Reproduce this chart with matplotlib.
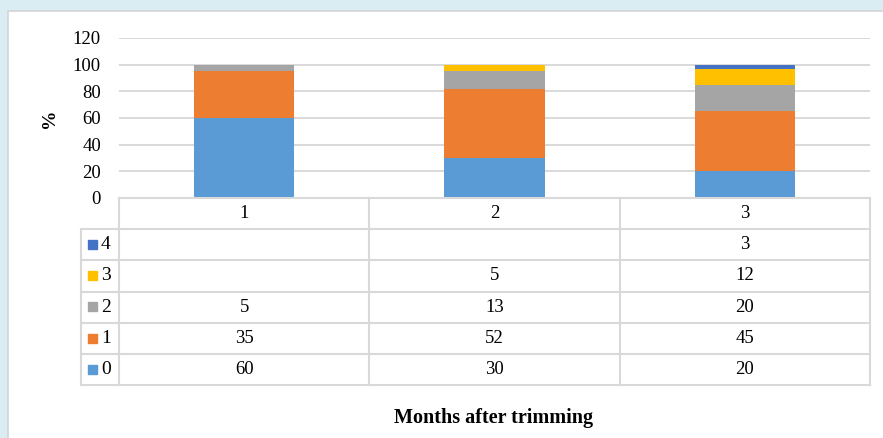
from matplotlib import pyplot
from matplotlib.patches import Rectangle

months = ["1", "2", "3"]
scores = ["0", "1", "2", "3", "4"]
score_0 = [60, 30, 20]
score_1 = [35, 52, 45]
score_2 = [5, 13, 20]
score_3 = [None, 5, 12]
score_4 = [None, None, 3]
series = [score_0, score_1, score_2, score_3, score_4]
colors = ["#5B9BD5", "#ED7D31", "#A5A5A5", "#FFC000", "#4472C4"]

W, H = 883, 438
GRID = "#d9d9d9"
pyplot.rcParams["font.family"] = ["Liberation Serif", "DejaVu Serif"]


def box(x0, y0, x1, y1):
    # pixel box (top-left origin) -> figure fraction rect
    return [x0 / W, 1 - y1 / H, (x1 - x0) / W, (y1 - y0) / H]


fig = pyplot.figure(figsize=(W / 100, H / 100), dpi=100, facecolor="#daedf2")
fig.patches.append(Rectangle((8 / W, -0.01), 1, 1.01 - 11 / H, transform=fig.transFigure,
                             fc="white", ec="#d4d4d4", lw=1.2, zorder=-5))

# stacked bars
ax = fig.add_axes(box(119, 38, 870, 198))
ax.set_xlim(-0.5, 2.5)
ax.set_ylim(0, 120)
ax.set_yticks(range(0, 121, 20))
ax.set_xticks([])
ax.grid(axis="y", color=GRID, lw=1.4)
ax.set_axisbelow(True)
for s in ax.spines.values():
    s.set_visible(False)
ax.tick_params(axis="y", length=0, pad=13, labelsize=13.5)
bottom = [0, 0, 0]
for vals, c in zip(series, colors):
    v = [x or 0 for x in vals]
    ax.bar(range(len(months)), v, width=0.4, bottom=bottom, color=c)
    bottom = [b + x for b, x in zip(bottom, v)]

fig.text(50 / W, 1 - 118 / H, "%", rotation=90, ha="center", va="center",
         fontsize=14, fontweight="bold")

# data table under the bars
tax = fig.add_axes(box(119, 198, 870, 385))
tax.set_xlim(-0.5, 2.5)
tax.set_ylim(6, 0)
tax.axis("off")
left = -0.5 + (81 - 119) / 250
kw = dict(color=GRID, lw=1.5, clip_on=False)
for r in range(7):
    tax.plot([left if r >= 1 else -0.5, 2.5], [r, r], **kw)
for x in [-0.5, 0.5, 1.5, 2.5]:
    tax.plot([x, x], [0, 6], **kw)
tax.plot([left, left], [1, 6], **kw)

for i, m in enumerate(months):
    tax.text(i, 0.5, m, ha="center", va="center", fontsize=13.5)
for k in range(len(scores)):
    row = 5 - k + 0.5
    tax.add_patch(Rectangle((-0.5 + (88 - 119) / 250, row - 0.15), 9 / 250, 0.29,
                            color=colors[k], clip_on=False))
    tax.text(-0.5 + (101 - 119) / 250, row, scores[k], ha="left", va="center", fontsize=14)
    for i, v in enumerate(series[k]):
        if v is not None:
            tax.text(i, row, str(v), ha="center", va="center", fontsize=13.5)

fig.text(494 / W, 1 - 418 / H, "Months after trimming", ha="center", va="center",
         fontsize=14.5, fontweight="bold")

fig.savefig("out.png", dpi=100, facecolor=fig.get_facecolor())
